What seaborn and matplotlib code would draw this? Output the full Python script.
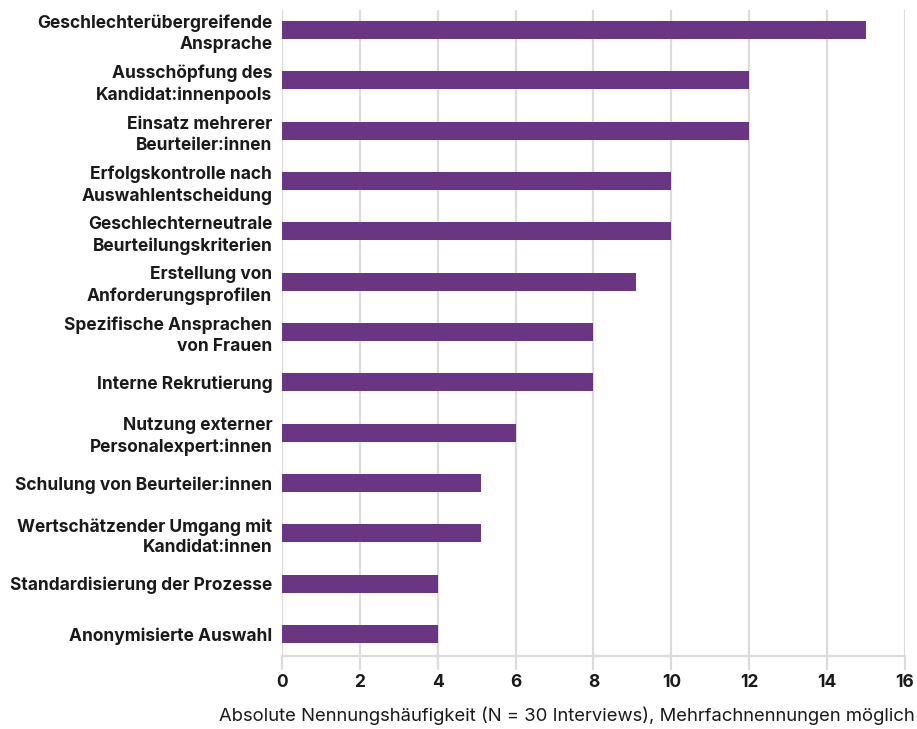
import matplotlib
matplotlib.use("Agg")
import matplotlib.pyplot as plt
import seaborn as sns
import pandas as pd

categories = [
    "Geschlechterübergreifende\nAnsprache",
    "Ausschöpfung des\nKandidat:innenpools",
    "Einsatz mehrerer\nBeurteiler:innen",
    "Erfolgskontrolle nach\nAuswahlentscheidung",
    "Geschlechterneutrale\nBeurteilungskriterien",
    "Erstellung von\nAnforderungsprofilen",
    "Spezifische Ansprachen\nvon Frauen",
    "Interne Rekrutierung",
    "Nutzung externer\nPersonalexpert:innen",
    "Schulung von Beurteiler:innen",
    "Wertschätzender Umgang mit\nKandidat:innen",
    "Standardisierung der Prozesse",
    "Anonymisierte Auswahl",
]
values = [15, 12, 12, 10, 10, 9.1, 8, 8, 6, 5.1, 5.1, 4, 4]
xticks = [0, 2, 4, 6, 8, 10, 12, 14, 16]
xlabel = "Absolute Nennungshäufigkeit (N = 30 Interviews), Mehrfachnennungen möglich"

df = pd.DataFrame({"cat": categories, "val": values})

sns.set_theme(style="white")
plt.rcParams["font.family"] = ["Inter", "DejaVu Sans"]

fig = plt.figure(figsize=(9.17, 7.29), dpi=100)
ax = fig.add_axes([0.3075, 0.1001, 0.6794, 0.8862])

sns.barplot(data=df, x="val", y="cat", orient="h", color="#6A3583",
            saturation=1, width=0.36, ax=ax, zorder=3, linewidth=0)

ax.set_xlim(0, 16)
ax.set_ylim(12.44, -0.4)
ax.set_xticks(xticks)
ax.set_xticklabels([str(t) for t in xticks], fontsize=12.5, fontweight="bold", color="#1a1a1a")
ax.set_yticks(range(len(categories)))
ax.set_yticklabels(categories, fontsize=12.5, fontweight="bold", color="#1a1a1a",
                   linespacing=1.3)
ax.grid(axis="x", color="#dcdcdc", linewidth=1.6, zorder=0)
ax.grid(axis="y", visible=False)
for s in ["top", "right", "left"]:
    ax.spines[s].set_visible(False)
ax.spines["bottom"].set_color("#dcdcdc")
ax.spines["bottom"].set_linewidth(1.6)
ax.tick_params(axis="x", length=10, width=1.6, color="#dcdcdc", pad=3, direction="out", bottom=True)
ax.tick_params(axis="y", length=0, pad=7)
ax.set_ylabel("")
ax.set_xlabel("")
fig.text(0.998, 0.006, xlabel, ha="right", va="bottom", fontsize=13.3, color="#1a1a1a")

fig.savefig("out.png", dpi=100)
